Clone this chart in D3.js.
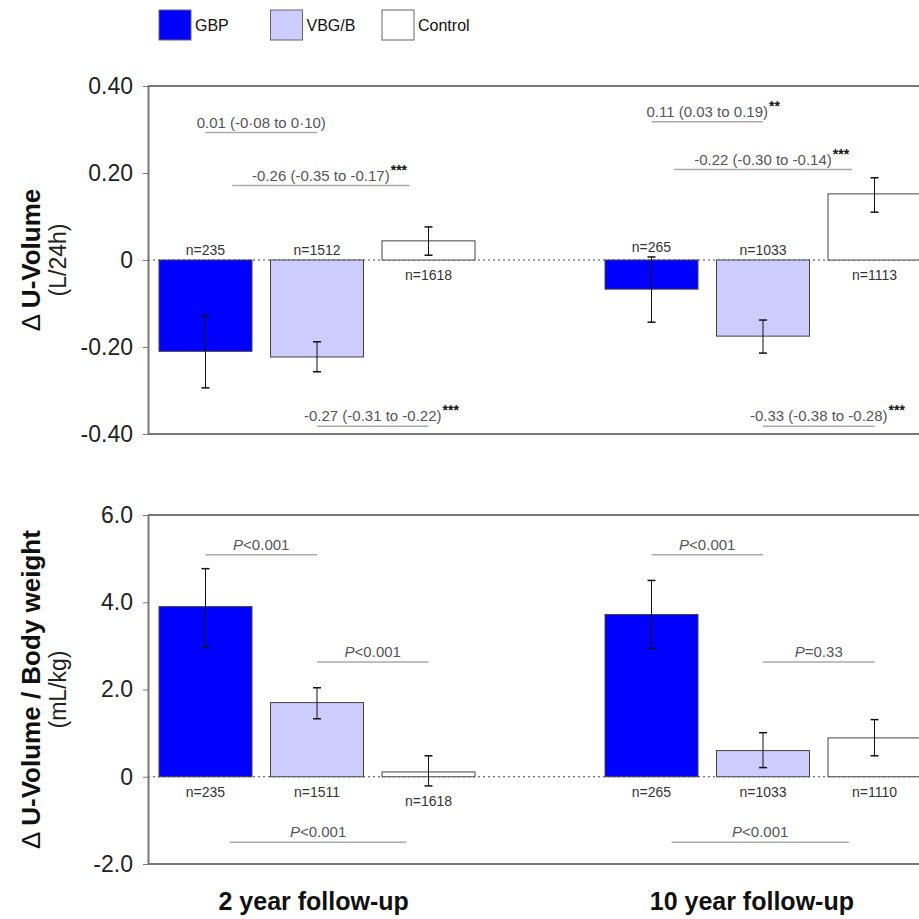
<!DOCTYPE html>
<html>
<head>
<meta charset="utf-8">
<script src="https://cdn.jsdelivr.net/npm/d3@7"></script>
<style>
  body { margin: 0; background: #fff; }
  text { font-family: "Liberation Sans", Arial, sans-serif; }
</style>
</head>
<body>
<script>
// groups and periods
var groups = ["GBP", "VBG/B", "Control"];
var groupColors = ["#0000ff", "#ccccff", "#ffffff"];
var periods = ["2 year follow-up", "10 year follow-up"];
var periodSlot = [0.97, 4.9];   // where each period label sits, in slot units

// x slots: three bars, an empty gap, three bars
var slots = ["2y GBP", "2y VBG/B", "2y Control", "gap", "10y GBP", "10y VBG/B", "10y Control"];
var barSlots = ["2y GBP", "2y VBG/B", "2y Control", "10y GBP", "10y VBG/B", "10y Control"];

// upper panel: change in urine volume (L/24h)
var volumeMean = [-0.210, -0.223, 0.044, -0.067, -0.175, 0.152];
var volumeLow  = [-0.294, -0.257, 0.011, -0.143, -0.214, 0.110];
var volumeHigh = [-0.129, -0.188, 0.076, 0.007, -0.138, 0.189];
var volumeN    = [235, 1512, 1618, 265, 1033, 1113];
var volumeTicks = [-0.4, -0.2, 0, 0.2, 0.4];
var volumeTickLabels = ["-0.40", "-0.20", "0", "0.20", "0.40"];

// lower panel: change in urine volume per body weight (mL/kg)
var weightMean = [3.90, 1.70, 0.11, 3.72, 0.60, 0.89];
var weightLow  = [2.98, 1.33, -0.21, 2.94, 0.21, 0.48];
var weightHigh = [4.77, 2.04, 0.48, 4.50, 1.01, 1.31];
var weightN    = [235, 1511, 1618, 265, 1033, 1110];
var weightTicks = [-2, 0, 2, 4, 6];
var weightTickLabels = ["-2.0", "0", "2.0", "4.0", "6.0"];

// comparisons: label, stars, from/to in slot units, level in data units
var volumeNotes = [
  {label: "0.01 (-0\u00b708 to 0\u00b710)", stars: "", from: 0, to: 1, at: 0.293},
  {label: "-0.26 (-0.35 to -0.17)", stars: "***", from: 0.24, to: 1.83, at: 0.171},
  {label: "-0.27 (-0.31 to -0.22)", stars: "***", from: 1, to: 2, at: -0.382},
  {label: "0.11 (0.03 to 0.19)", stars: "**", from: 4, to: 5, at: 0.318},
  {label: "-0.22 (-0.30 to -0.14)", stars: "***", from: 4.2, to: 5.8, at: 0.208},
  {label: "-0.33 (-0.38 to -0.28)", stars: "***", from: 5, to: 6, at: -0.382}
];
var weightNotes = [
  {p: "<0.001", from: 0, to: 1, at: 5.09},
  {p: "<0.001", from: 1, to: 2, at: 2.63},
  {p: "<0.001", from: 0.22, to: 1.8, at: -1.50},
  {p: "<0.001", from: 4, to: 5, at: 5.09},
  {p: "=0.33", from: 5, to: 6, at: 2.63},
  {p: "<0.001", from: 4.18, to: 5.77, at: -1.50}
];

var W = 919, H = 919;
var axisX = 148;

var svg = d3.select("body").append("svg")
    .attr("width", W)
    .attr("height", H);

var x = d3.scaleBand()
    .domain(slots)
    .range([149.75, 930.25])
    .paddingInner(0.166)
    .paddingOuter(0.083);

function slotX(u) {
  return x(slots[0]) + x.bandwidth() / 2 + u * x.step();
}

// legend
groups.forEach(function(g, i) {
  var lx = x(slots[i]);
  svg.append("rect")
      .attr("x", lx).attr("y", 10)
      .attr("width", 32).attr("height", 30)
      .attr("fill", groupColors[i])
      .attr("stroke", "#666").attr("stroke-width", 1);
  svg.append("text")
      .attr("x", lx + 36).attr("y", 31)
      .style("font-size", "16px")
      .style("fill", "#111")
      .text(g);
});

function drawPanel(cfg) {
  var y = d3.scaleLinear().domain(cfg.domain).range([cfg.bottom, cfg.top]);
  var g = svg.append("g");

  // top and bottom frame lines
  [cfg.top, cfg.bottom].forEach(function(yy) {
    g.append("line")
        .attr("x1", axisX).attr("x2", W)
        .attr("y1", yy).attr("y2", yy)
        .attr("stroke", "#777").attr("stroke-width", 2);
  });

  // dotted zero line
  g.append("line")
      .attr("x1", axisX).attr("x2", W)
      .attr("y1", y(0)).attr("y2", y(0))
      .attr("stroke", "#444").attr("stroke-width", 1)
      .attr("stroke-dasharray", "2,3");

  var axis = g.append("g")
      .attr("transform", "translate(" + axisX + ",0)")
      .call(d3.axisLeft(y)
        .tickValues(cfg.ticks)
        .tickSize(5)
        .tickSizeOuter(0)
        .tickPadding(10)
        .tickFormat(function(d, i) { return cfg.tickLabels[i]; }));
  axis.select(".domain").attr("stroke", "#777").attr("stroke-width", 2);
  axis.selectAll(".tick line").attr("stroke", "#777");
  axis.selectAll(".tick text")
      .style("font-size", "23px")
      .style("font-family", "'Liberation Sans', Arial, sans-serif")
      .attr("fill", "#222");

  // bars
  barSlots.forEach(function(s, i) {
    var v = cfg.mean[i];
    g.append("rect")
        .attr("x", x(s))
        .attr("y", Math.min(y(0), y(v)))
        .attr("width", x.bandwidth())
        .attr("height", Math.abs(y(v) - y(0)))
        .attr("fill", groupColors[i % 3])
        .attr("stroke", "#444").attr("stroke-width", 1);
  });

  // error bars
  barSlots.forEach(function(s, i) {
    var cx = x(s) + x.bandwidth() / 2;
    var lo = y(cfg.low[i]), hi = y(cfg.high[i]);
    g.append("line").attr("x1", cx).attr("x2", cx).attr("y1", lo).attr("y2", hi)
        .attr("stroke", "#111").attr("stroke-width", 1);
    [lo, hi].forEach(function(yy) {
      g.append("line").attr("x1", cx - 4).attr("x2", cx + 4).attr("y1", yy).attr("y2", yy)
          .attr("stroke", "#111").attr("stroke-width", 1.5);
    });
  });

  // n labels, on the side of the zero line away from the bar
  barSlots.forEach(function(s, i) {
    var cx = x(s) + x.bandwidth() / 2;
    var ly;
    if (cfg.mean[i] < 0) {
      ly = Math.min(y(0), y(cfg.high[i])) - 10;
    } else {
      ly = Math.max(y(0), y(cfg.low[i])) + 15;
    }
    g.append("text")
        .attr("x", cx).attr("y", ly)
        .attr("text-anchor", "middle")
        .attr("dominant-baseline", "central")
        .style("font-size", "14px")
        .style("fill", "#333")
        .text("n=" + cfg.n[i]);
  });

  // comparison lines and labels
  cfg.notes.forEach(function(d) {
    var x1 = slotX(d.from), x2 = slotX(d.to), ly = y(d.at);
    g.append("line")
        .attr("x1", x1).attr("x2", x2).attr("y1", ly).attr("y2", ly)
        .attr("stroke", "#aaa").attr("stroke-width", 1.5);
    var cx = (x1 + x2) / 2;
    var t = g.append("text")
        .attr("x", cx).attr("y", ly - 5)
        .attr("text-anchor", "middle")
        .style("font-size", "15px")
        .style("fill", "#555");
    if (d.p !== undefined) {
      t.append("tspan").style("font-style", "italic").text("P");
      t.append("tspan").text(d.p);
    } else {
      t.text(d.label);
      if (d.stars) {
        var len = t.node().getComputedTextLength();
        g.append("text")
            .attr("x", cx + len / 2 + 1).attr("y", ly - 11)
            .style("font-size", "14px")
            .style("font-weight", "bold")
            .style("fill", "#111")
            .text(d.stars);
      }
    }
  });

  // y title
  var cy = (cfg.top + cfg.bottom) / 2;
  var title = g.append("text")
      .attr("transform", "translate(31," + cy + ")rotate(-90)")
      .attr("text-anchor", "middle")
      .attr("dominant-baseline", "central")
      .style("font-size", "26px")
      .style("fill", "#111");
  title.append("tspan").style("font-weight", "normal").text("\u0394 ");
  title.append("tspan").style("font-weight", "bold").text(cfg.title);
  g.append("text")
      .attr("transform", "translate(58," + cy + ")rotate(-90)")
      .attr("text-anchor", "middle")
      .attr("dominant-baseline", "central")
      .style("font-size", "23px")
      .style("fill", "#222")
      .text(cfg.unit);
}

drawPanel({
  top: 86, bottom: 434, domain: [-0.4, 0.4],
  ticks: volumeTicks, tickLabels: volumeTickLabels,
  mean: volumeMean, low: volumeLow, high: volumeHigh, n: volumeN,
  notes: volumeNotes, title: "U-Volume", unit: "(L/24h)"
});

drawPanel({
  top: 515, bottom: 864, domain: [-2, 6],
  ticks: weightTicks, tickLabels: weightTickLabels,
  mean: weightMean, low: weightLow, high: weightHigh, n: weightN,
  notes: weightNotes, title: "U-Volume / Body weight", unit: "(mL/kg)"
});

// period labels under each group
periods.forEach(function(p, i) {
  svg.append("text")
      .attr("x", slotX(periodSlot[i]))
      .attr("y", 910)
      .attr("text-anchor", "middle")
      .style("font-size", "25px")
      .style("font-weight", "bold")
      .style("fill", "#111")
      .text(p);
});
</script>
</body>
</html>
